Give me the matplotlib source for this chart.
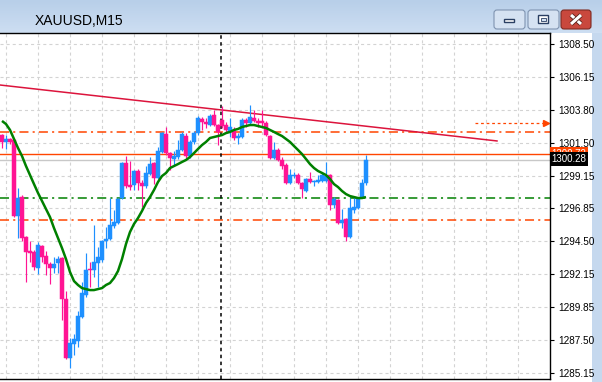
import numpy as np
import matplotlib
matplotlib.use("Agg")
import matplotlib.pyplot as plt
from matplotlib.patches import FancyBboxPatch, Rectangle
from matplotlib.transforms import blended_transform_factory
import matplotlib.patheffects as pe

plt.rcParams['lines.scale_dashes'] = False

# ---------------- data ----------------
title_text = "XAUUSD,M15"

opens = [1302.04, 1301.55, 1301.76, 1301.69, 1296.29, 1297.64, 1294.80, 1293.81, 1293.74, 1292.60,
         1294.17, 1293.46, 1292.89, 1292.60, 1292.96, 1293.31, 1290.40, 1286.21, 1287.21, 1287.42,
         1289.12, 1290.69, 1292.53, 1292.46, 1292.96, 1293.17, 1294.52, 1294.66, 1295.58, 1295.80,
         1297.57, 1300.06, 1298.49, 1298.49, 1299.49, 1298.64, 1298.42, 1299.27, 1300.06, 1298.99,
         1300.84, 1302.11, 1300.76, 1300.34, 1300.48, 1300.98, 1301.97, 1300.55, 1301.55, 1302.18,
         1303.18, 1302.96, 1302.75, 1303.46, 1302.75, 1303.11, 1302.75, 1302.26, 1302.33, 1301.83,
         1301.90, 1303.11, 1302.89, 1303.25, 1303.04, 1303.04, 1302.89, 1301.97, 1300.41, 1300.98,
         1300.27, 1299.91, 1298.64, 1299.13, 1299.20, 1298.64, 1298.07, 1298.92, 1298.71, 1298.71,
         1298.78, 1298.78, 1299.20, 1297.07, 1297.43, 1295.80, 1296.08, 1294.80, 1296.72, 1296.86,
         1297.64, 1298.64]
highs = [1302.11, 1302.04, 1301.83, 1301.76, 1298.28, 1297.78, 1294.87, 1294.52, 1293.88, 1294.45,
         1294.24, 1293.81, 1293.03, 1293.38, 1293.46, 1293.38, 1290.97, 1287.64, 1287.92, 1289.55,
         1291.61, 1293.67, 1293.03, 1295.66, 1294.09, 1294.59, 1295.51, 1297.57, 1296.72, 1297.57,
         1300.13, 1300.55, 1300.20, 1299.56, 1299.63, 1298.85, 1299.84, 1300.48, 1300.13, 1301.19,
         1302.26, 1302.61, 1300.84, 1300.91, 1301.69, 1302.26, 1302.18, 1301.69, 1302.33, 1303.39,
         1303.32, 1303.25, 1303.53, 1303.82, 1302.82, 1304.10, 1302.96, 1303.25, 1302.61, 1302.18,
         1303.25, 1303.25, 1304.17, 1303.82, 1303.25, 1303.82, 1303.04, 1302.04, 1301.55, 1301.12,
         1300.48, 1300.06, 1299.63, 1299.42, 1299.35, 1298.71, 1298.99, 1299.42, 1298.85, 1299.20,
         1299.35, 1300.13, 1299.27, 1297.64, 1297.50, 1296.79, 1296.15, 1297.57, 1297.64, 1297.64,
         1298.92, 1300.62]
lows = [1301.12, 1301.05, 1301.40, 1296.22, 1294.73, 1294.52, 1291.61, 1293.03, 1292.46, 1292.18,
        1293.03, 1292.11, 1291.47, 1292.25, 1292.25, 1288.91, 1286.14, 1285.50, 1286.43, 1287.00,
        1289.05, 1290.55, 1291.26, 1291.96, 1291.26, 1293.03, 1294.02, 1294.59, 1295.44, 1295.73,
        1297.50, 1298.28, 1298.14, 1298.14, 1298.14, 1296.93, 1298.28, 1299.20, 1298.56, 1298.92,
        1300.76, 1300.62, 1299.56, 1299.91, 1300.34, 1300.91, 1300.41, 1300.41, 1301.40, 1302.04,
        1302.40, 1302.54, 1302.68, 1302.68, 1301.33, 1302.54, 1302.18, 1301.90, 1301.69, 1301.40,
        1301.83, 1302.61, 1302.82, 1302.96, 1302.61, 1302.61, 1301.97, 1300.34, 1300.34, 1300.20,
        1299.63, 1298.56, 1298.56, 1298.99, 1298.56, 1297.57, 1298.00, 1298.64, 1298.42, 1298.64,
        1298.71, 1298.71, 1296.72, 1296.86, 1295.73, 1295.44, 1294.52, 1294.73, 1296.51, 1296.79,
        1297.57, 1298.49]
closes = [1301.55, 1301.76, 1301.55, 1296.29, 1297.57, 1294.73, 1293.74, 1293.67, 1292.67, 1294.24,
          1293.38, 1292.89, 1292.60, 1292.89, 1293.24, 1290.40, 1286.21, 1287.28, 1287.56, 1289.20,
          1290.83, 1292.46, 1292.46, 1293.03, 1293.38, 1294.52, 1294.66, 1295.66, 1295.87, 1297.50,
          1300.06, 1298.42, 1298.35, 1299.49, 1298.64, 1298.42, 1299.35, 1299.98, 1298.99, 1300.91,
          1302.18, 1300.76, 1300.41, 1300.55, 1300.98, 1302.11, 1300.55, 1301.55, 1302.18, 1303.25,
          1302.96, 1302.82, 1303.39, 1302.75, 1302.26, 1302.68, 1302.40, 1302.61, 1301.83, 1301.97,
          1303.11, 1302.89, 1303.32, 1303.04, 1302.89, 1302.89, 1302.04, 1300.41, 1300.98, 1300.27,
          1299.84, 1298.64, 1299.20, 1299.20, 1298.64, 1298.21, 1298.92, 1298.71, 1298.78, 1298.85,
          1299.20, 1299.13, 1297.07, 1297.50, 1295.80, 1296.01, 1294.80, 1296.86, 1296.93, 1297.57,
          1298.64, 1300.28]
ma_values = [1303.04, 1302.82, 1302.40, 1301.76, 1301.12, 1300.55, 1299.84, 1299.20, 1298.56, 1297.93,
             1297.36, 1296.79, 1296.22, 1295.44, 1294.73, 1294.02, 1293.24, 1292.32, 1291.68, 1291.40,
             1291.18, 1291.11, 1291.04, 1291.04, 1291.11, 1291.18, 1291.40, 1291.54, 1291.89, 1292.39,
             1293.24, 1294.31, 1295.16, 1295.73, 1296.15, 1296.65, 1297.22, 1297.64, 1298.14, 1298.71,
             1299.13, 1299.35, 1299.70, 1299.84, 1299.98, 1300.13, 1300.27, 1300.48, 1300.76, 1301.05,
             1301.33, 1301.55, 1301.83, 1301.90, 1301.97, 1302.04, 1302.18, 1302.26, 1302.40, 1302.47,
             1302.61, 1302.68, 1302.75, 1302.75, 1302.68, 1302.61, 1302.54, 1302.40, 1302.26, 1302.11,
             1301.97, 1301.76, 1301.55, 1301.26, 1300.98, 1300.69, 1300.34, 1299.98, 1299.70, 1299.49,
             1299.35, 1299.20, 1298.92, 1298.56, 1298.35, 1298.07, 1297.85, 1297.71, 1297.64, 1297.57,
             1297.57, 1297.64]

tick_values = [1308.50, 1306.15, 1303.80, 1301.50, 1299.15, 1296.85, 1294.50, 1292.15, 1289.85, 1287.50, 1285.15]
tick_labels = ["1308.50", "1306.15", "1303.80", "1301.50", "1299.15", "1296.85", "1294.50",
               "1292.15", "1289.85", "1287.50", "1285.15"]

ask_price = 1300.72
bid_price = 1300.28
level_upper = 1302.25
level_green = 1297.55
level_lower = 1296.00
trend_idx = [-0.5, 123.75]
trend_price = [1305.59, 1301.62]
arrow_idx = [118.25, 136.0]
arrow_price = 1302.90
vline_idx = 54.75
grid_idx = [1 + 8 * k for k in range(17)]

# ---------------- figure ----------------
W, H = 602, 382
DPI = 100
fig = plt.figure(figsize=(W / DPI, H / DPI), dpi=DPI)
fig.patch.set_facecolor("white")

# background (window chrome)
bg = fig.add_axes([0, 0, 1, 1], zorder=-5)
img = np.ones((H, W, 3))
top = np.array([184, 207, 233]) / 255.0
bot = np.array([205, 222, 242]) / 255.0
for r in range(33):
    t = r / 32.0
    img[r, :, :] = top * (1 - t) + bot * t
img[33:, 592:, :] = np.array([197, 216, 238]) / 255.0
bg.imshow(img, aspect="auto", extent=(0, W, H, 0), interpolation="nearest")
bg.set_xlim(0, W)
bg.set_ylim(H, 0)
bg.axis("off")

# main chart axes
ax_top, ax_bot = 33, 379
ax = fig.add_axes([0, (H - ax_bot) / H, 550 / W, (ax_bot - ax_top) / H])
ax.set_facecolor("white")
ax.set_xlim(-0.5, 137.0)
ax.set_ylim(1284.73, 1309.28)

idx = np.arange(len(opens))
o = np.array(opens); c = np.array(closes); hi = np.array(highs); lo = np.array(lows)

# grid
for gx in grid_idx:
    ax.axvline(gx, color="#D3D3D3", lw=0.8, dashes=(2.2, 2.2), zorder=0)
for gy in tick_values:
    ax.axhline(gy, color="#D3D3D3", lw=0.8, dashes=(2.2, 2.2), zorder=0)

# horizontal levels
dd = (6.5, 3.0, 1.5, 3.0)
ax.axhline(level_upper, color="#FF4500", lw=1.1, dashes=dd, zorder=1)
ax.axhline(level_lower, color="#FF4500", lw=1.1, dashes=dd, zorder=1)
ax.axhline(level_green, color="#008000", lw=1.1, dashes=dd, zorder=1)
ax.axhline(bid_price, color="#C8C8C8", lw=1.0, zorder=1)
ax.axhline(ask_price, color="#FF4500", lw=1.0, zorder=1)

# trend line
ax.plot(trend_idx, trend_price, color="#DC143C", lw=1.1, zorder=2)

# dotted arrow
ax.plot(arrow_idx, [arrow_price, arrow_price], color="#FF4500", lw=0.9, dashes=(2.0, 2.0), zorder=2)
ax.plot([arrow_idx[1]], [arrow_price], marker=">", color="#FF4500", markersize=4, zorder=2)

# vertical dashed line
ax.axvline(vline_idx, color="black", lw=1.1, dashes=(2.5, 2.5), zorder=2)

# candles
bull = c >= o
colors = np.where(bull, "#1E90FF", "#FF1493")
ax.vlines(idx, lo, hi, colors=colors, lw=0.85, zorder=3)
body_low = np.minimum(o, c)
body_h = np.maximum(np.abs(c - o), 0.07)
ax.bar(idx, body_h, bottom=body_low, width=0.78, color=colors, edgecolor=colors,
       linewidth=0.35, zorder=4)

# moving average
ax.plot(idx, ma_values, color="#008000", lw=1.8, zorder=5, solid_capstyle="butt")

# axes styling
ax.spines["left"].set_visible(False)
for side in ["right", "top", "bottom"]:
    ax.spines[side].set_color("black")
    ax.spines[side].set_linewidth(1.0)
ax.set_xticks([])
ax.yaxis.tick_right()
ax.set_yticks(tick_values)
ax.set_yticklabels(tick_labels)
ax.tick_params(axis="y", direction="out", length=3, width=0.8, pad=3, labelsize=7.2,
               colors="black")
for lab in ax.get_yticklabels():
    lab.set_fontfamily("Liberation Sans")

# price boxes on the axis
trans = blended_transform_factory(ax.transAxes, ax.transData)
ax.text(1.003, ask_price, "1300.72", transform=trans, ha="left", va="center", fontsize=7.0,
        color="white", family="Liberation Sans", clip_on=False, zorder=10,
        bbox=dict(boxstyle="square,pad=0.15", fc="#FF4500", ec="none"))
ax.text(1.003, bid_price + 0.08, "1300.28", transform=trans, ha="left", va="center", fontsize=7.0,
        color="white", family="Liberation Sans", clip_on=False, zorder=11,
        bbox=dict(boxstyle="square,pad=0.2", fc="black", ec="none"))

# chrome overlay: title and buttons
ov = fig.add_axes([0, 0, 1, 1], zorder=10)
ov.set_xlim(0, W)
ov.set_ylim(H, 0)
ov.axis("off")
ov.patch.set_alpha(0)

ov.text(35, 21, title_text, fontsize=10, family="Liberation Sans", va="center", ha="left",
        color="black")

for x0 in (494, 528):
    ov.add_patch(FancyBboxPatch((x0, 10), 31, 19, boxstyle="round,pad=0,rounding_size=3",
                                fc="#D5E2F2", ec="#7F93B0", lw=0.8))
# minimize icon
ov.add_patch(Rectangle((504, 18.5), 10, 3.5, fc="white", ec="#2A3F63", lw=1.0))
# maximize icon
ov.add_patch(Rectangle((538, 14.5), 10, 8.5, fc="white", ec="#2A3F63", lw=1.0))
ov.add_patch(Rectangle((540.5, 17.5), 5, 3, fc="#D5E2F2", ec="#2A3F63", lw=0.6))
# close button
ov.add_patch(FancyBboxPatch((561, 10), 30, 19, boxstyle="round,pad=0,rounding_size=3",
                            fc="#C9483D", ec="#7E2A22", lw=0.8))
for (xa, ya, xb, yb) in [(571, 15, 581, 24), (571, 24, 581, 15)]:
    ov.plot([xa, xb], [ya, yb], color="white", lw=2.2, solid_capstyle="butt",
            path_effects=[pe.Stroke(linewidth=3.4, foreground="#5A1E18"), pe.Normal()])

fig.savefig("out.png", dpi=DPI)
